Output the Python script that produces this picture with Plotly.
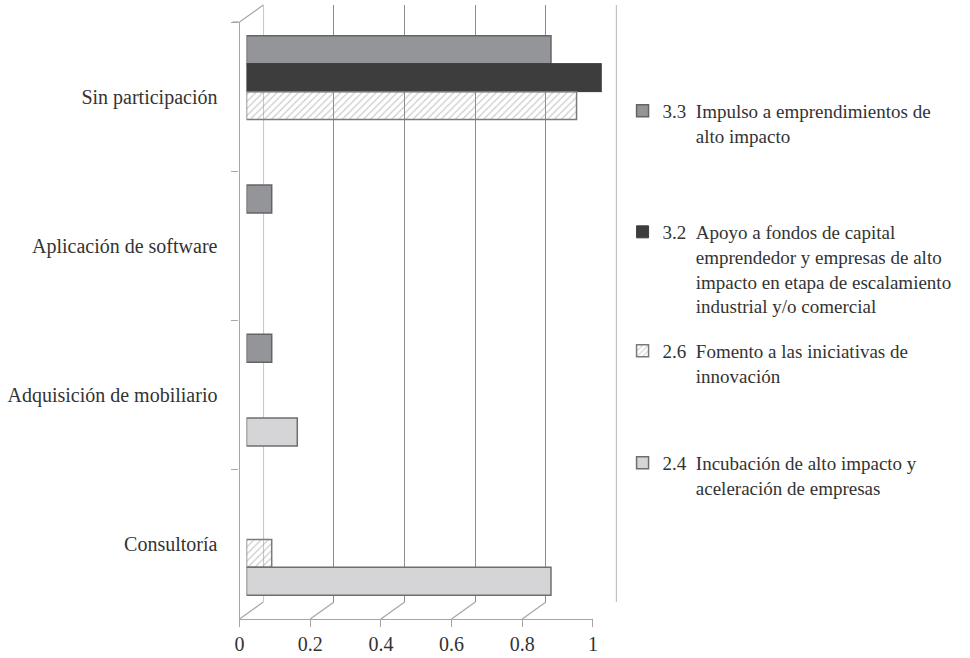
import plotly.graph_objects as go

# Categories (top to bottom) and share of participants per program
categories = ["Sin participación", "Aplicación de software",
              "Adquisición de mobiliario", "Consultoría"]

IND = "\u00a0" * 7
series_names = [
    "3.3\u00a0\u00a0Impulso a emprendimientos de<br>" + IND + "alto impacto",
    "3.2\u00a0\u00a0Apoyo a fondos de capital<br>" + IND + "emprendedor y empresas de alto<br>"
    + IND + "impacto en etapa de escalamiento<br>" + IND + "industrial y/o comercial",
    "2.6\u00a0\u00a0Fomento a las iniciativas de<br>" + IND + "innovación",
    "2.4\u00a0\u00a0Incubación de alto impacto y<br>" + IND + "aceleración de empresas",
]

v33 = [0.857, 0.071, 0.071, None]
v32 = [1.0, None, None, None]
v26 = [0.929, None, None, 0.071]
v24 = [None, None, 0.143, 0.857]

x_ticks = [0, 0.2, 0.4, 0.6, 0.8, 1]
x_ticktext = ["0", "0.2", "0.4", "0.6", "0.8", "1"]

W, H = 970, 658
FONT = "Liberation Serif, serif"
TXT = "#333333"
GRID = "#8c8c8c"
FRAME = "#a6a6a6"

def px_x(p):
    return p / W

def px_y(p):
    return 1 - p / H

# depth offset of the back wall relative to the front plane (pixels)
DX, DY = 24, 17
UNIT = 357  # pixels per unit on x

fig = go.Figure()

# front plane: invisible trace so the category axis is built
fig.add_trace(go.Scatter(x=[0] * len(categories), y=categories, mode="markers",
                         marker=dict(opacity=0), hoverinfo="skip", showlegend=False,
                         xaxis="x2", yaxis="y2"))

bar_styles = [
    dict(color="#939598", line=dict(color="#646464", width=1.5)),
    dict(color="#3d3d3d", line=dict(color="#3d3d3d", width=1)),
    dict(color="rgba(0,0,0,0)", line=dict(color="#7a7a7a", width=1.5),
         pattern=dict(shape="/", fgcolor="#9a9a9a", size=5, solidity=0.25)),
    dict(color="#d5d5d7", line=dict(color="#6e6e6e", width=1.5)),
]
values = [v33, v32, v26, v24]
legend_ids = ["legend", "legend2", "legend3", "legend4"]

for name, vals, style, lg in zip(series_names, values, bar_styles, legend_ids):
    fig.add_trace(go.Bar(x=vals, y=categories, orientation="h", name=name,
                         marker=style, xaxis="x3", yaxis="y3", legend=lg,
                         hoverinfo="skip"))

# back wall gridlines on their own axis
fig.add_trace(go.Scatter(x=[0, 1], y=[0, 0], mode="markers", marker=dict(opacity=0),
                         hoverinfo="skip", showlegend=False, xaxis="x", yaxis="y"))

shapes = []
# left and right edges of the back wall
for t, col in ((0, "#b0b0b0"), (1, "#9a9a9a")):
    shapes.append(dict(type="line", xref="x", yref="y domain", x0=t, x1=t, y0=0, y1=1,
                       line=dict(color=col, width=1.5), layer="below"))
# diagonal edges connecting the front plane to the back wall
y_front_base = px_y(619)
y_back_base = px_y(619 - DY)
for t in x_ticks:
    shapes.append(dict(type="line", xref="x2", yref="paper",
                       x0=t, x1=t + DX / UNIT, y0=y_front_base, y1=y_back_base,
                       line=dict(color=FRAME, width=1.2), layer="above"))
# top-left edge of the side wall and its tick
shapes.append(dict(type="line", xref="x2", yref="paper",
                   x0=0, x1=DX / UNIT, y0=px_y(22), y1=px_y(22 - DY),
                   line=dict(color=FRAME, width=1.2), layer="above"))
shapes.append(dict(type="line", xref="paper", yref="paper",
                   x0=px_x(230), x1=px_x(237), y0=px_y(22), y1=px_y(22),
                   line=dict(color=FRAME, width=1.2), layer="above"))

legend_tops = [92, 213, 332, 444]
legends = {}
for lg, top in zip(legend_ids, legend_tops):
    legends[lg] = dict(x=px_x(624), xanchor="left", y=px_y(top), yanchor="top",
                       bgcolor="rgba(0,0,0,0)", borderwidth=0, valign="top",
                       font=dict(family=FONT, size=19, color=TXT), itemclick=False,
                       itemdoubleclick=False)

fig.update_layout(
    width=W, height=H,
    margin=dict(l=0, r=0, t=0, b=0),
    paper_bgcolor="white", plot_bgcolor="rgba(0,0,0,0)",
    barmode="group", bargap=0.25, bargroupgap=0,
    font=dict(family=FONT, size=20, color=TXT),
    shapes=shapes,
    # back wall
    xaxis=dict(domain=[px_x(261), px_x(618)], range=[0, 1], anchor="y",
               tickvals=x_ticks, showticklabels=False, ticks="", showgrid=True,
               gridcolor=GRID, gridwidth=1.2, zeroline=False, showline=False),
    yaxis=dict(domain=[px_y(602), px_y(5)], range=[0, 1], visible=False, anchor="x"),
    # front plane
    xaxis2=dict(domain=[px_x(237), px_x(594)], range=[0, 1], anchor="y2",
                tickvals=x_ticks, ticktext=x_ticktext, ticks="outside", ticklen=7,
                tickcolor=FRAME, showline=True, linecolor=FRAME, linewidth=1.2,
                showgrid=False, zeroline=False, tickfont=dict(family=FONT, size=20, color=TXT)),
    yaxis2=dict(domain=[px_y(619), px_y(22)], type="category", categoryorder="array",
                categoryarray=categories, range=[3.5, -0.5], anchor="x2",
                ticks="outside", tickson="boundaries", ticklen=7, tickcolor=FRAME,
                showline=True, linecolor=FRAME, linewidth=1.2, showgrid=False,
                ticklabelstandoff=17, tickfont=dict(family=FONT, size=20, color=TXT)),
    # bars (drawn at mid depth)
    xaxis3=dict(domain=[px_x(244), px_x(603)], range=[0, 1], anchor="y3", visible=False),
    yaxis3=dict(domain=[px_y(614), px_y(17)], type="category", categoryorder="array",
                categoryarray=categories, range=[3.5, -0.5], anchor="x3", visible=False),
    **legends,
)

fig.write_html("out.html")
